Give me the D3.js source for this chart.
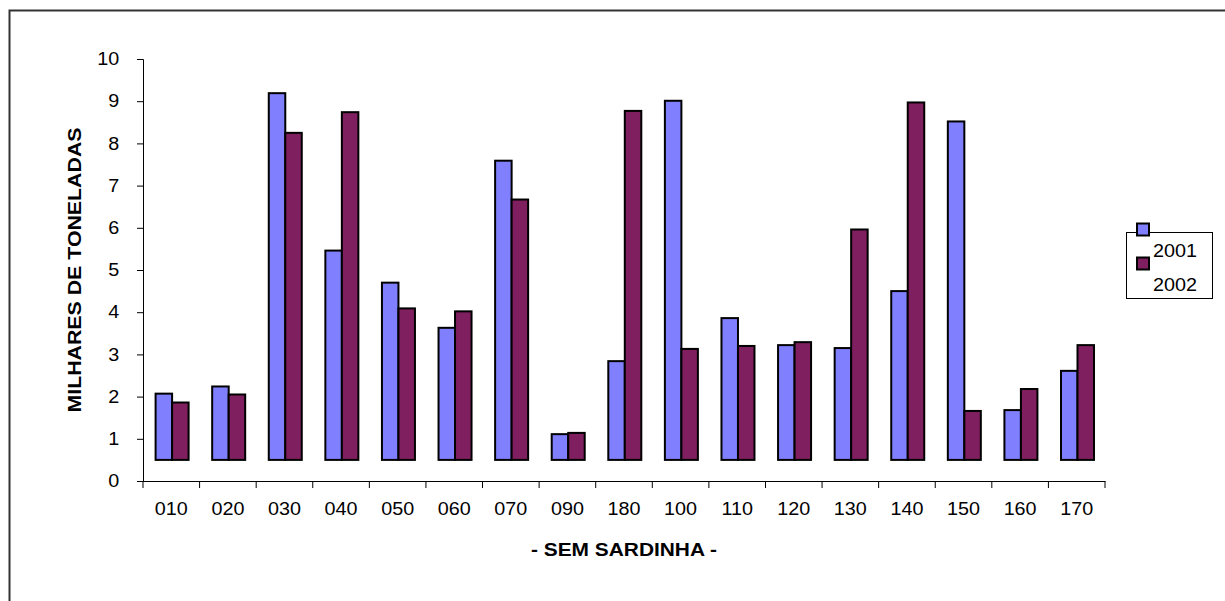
<!DOCTYPE html>
<html>
<head>
<meta charset="utf-8">
<script src="https://cdn.jsdelivr.net/npm/d3@7"></script>
<style>
body { margin: 0; background: #fff; }
text { font-family: "Liberation Sans", Arial, sans-serif; }
</style>
</head>
<body>
<div id="chart"></div>
<script>
const categories = ["010","020","030","040","050","060","070","090","180","100","110","120","130","140","150","160","170"];
const series = ["2001","2002"];
const values2001 = [2.07,2.24,9.19,5.46,4.70,3.63,7.59,1.11,2.84,9.01,3.86,3.22,3.15,4.50,8.52,1.68,2.61];
const values2002 = [1.86,2.05,8.25,8.74,4.09,4.02,6.67,1.14,8.77,3.13,3.20,3.29,5.96,8.97,1.66,2.18,3.22];
const yTicks = [0,1,2,3,4,5,6,7,8,9,10];
const barBase = 0.5;

const width = 1225,
height = 601,
margin = {top: 59, right: 120, bottom: 120, left: 143};

const colors = ["#8080ff", "#7f1f5f"];

const data = categories.map((c, i) => ({cat: c, v: [values2001[i], values2002[i]]}));

const svg = d3.select("#chart")
.append("svg")
.attr("width", width)
.attr("height", height);

// outer frame (runs off the right and bottom)
svg.append("rect")
.attr("x", 9.5)
.attr("y", 10.5)
.attr("width", width + 20)
.attr("height", height + 20)
.attr("fill", "none")
.attr("stroke", "#333")
.attr("stroke-width", 2);

let x = d3.scaleBand(categories, [margin.left, 1105]);
let y = d3.scaleLinear([0, 10], [481, 59]);

let xSub = d3.scaleBand(series, [0, 33]);

svg.append("g")
.attr("transform", `translate(${margin.left},0)`)
.call(d3.axisLeft(y).tickValues(yTicks).tickSize(6).tickPadding(15).tickFormat(d3.format("d")))
.call(g => g.select(".domain").attr("stroke", "#000"))
.call(g => g.selectAll("text")
  .attr("font-size", "17.5px").attr("fill", "#000")
  .attr("font-family", "Liberation Sans, Arial, sans-serif")
  .attr("transform", "scale(1.13,1)"));

let xAxis = svg.append("g")
.attr("transform", `translate(0,${y(0)})`)
.call(d3.axisBottom(x).tickSize(0).tickPadding(22))
.call(g => g.select(".domain").attr("stroke", "#000"))
.call(g => g.selectAll("text")
  .attr("font-size", "17.5px").attr("fill", "#000")
  .attr("font-family", "Liberation Sans, Arial, sans-serif")
  .attr("transform", "scale(1.13,1)"));

// category separator ticks
xAxis.append("g")
.selectAll("line")
.data(categories)
.join("line")
.attr("x1", d => x(d))
.attr("x2", d => x(d))
.attr("y1", 0)
.attr("y2", 7)
.attr("stroke", "#000");
xAxis.append("line")
.attr("x1", x.range()[1]).attr("x2", x.range()[1])
.attr("y1", 0).attr("y2", 7)
.attr("stroke", "#000");

const groupOffset = (x.bandwidth() - 33) / 2 + 0.8;

svg.append("g")
.selectAll("g")
.data(data)
.join("g")
.attr("transform", d => `translate(${x(d.cat) + groupOffset},0)`)
.selectAll("rect")
.data(d => d.v.map((v, i) => ({key: series[i], v: v, i: i})))
.join("rect")
.attr("x", d => xSub(d.key))
.attr("y", d => y(d.v))
.attr("width", xSub.bandwidth())
.attr("height", d => y(barBase) - y(d.v))
.attr("fill", d => colors[d.i])
.attr("stroke", "#000")
.attr("stroke-width", 2);

// legend
const legend = svg.append("g");
legend.append("rect")
.attr("x", 1126.5)
.attr("y", 232.5)
.attr("width", 86)
.attr("height", 66)
.attr("fill", "#fff")
.attr("stroke", "#000")
.attr("stroke-width", 1);

let legendGroup = legend.selectAll(".legend-group")
.data(series)
.join("g")
.attr("class", "legend-group");

legendGroup.append("rect")
.attr("x", 1137)
.attr("y", (d, i) => 223.5 + i * 34)
.attr("width", 12)
.attr("height", 12)
.attr("fill", (d, i) => colors[i])
.attr("stroke", "#000")
.attr("stroke-width", 2);

legendGroup.append("text")
.attr("x", 1153)
.attr("y", (d, i) => 256.5 + i * 34.5)
.attr("font-size", "18.5px")
.attr("fill", "#000")
.attr("textLength", 44)
.attr("lengthAdjust", "spacingAndGlyphs")
.text(d => d);

svg.append("text")
.attr("text-anchor", "middle")
.attr("x", 624)
.attr("y", 556)
.attr("font-size", "18.5px")
.attr("font-weight", "bold")
.attr("textLength", 186)
.attr("lengthAdjust", "spacingAndGlyphs")
.text("- SEM SARDINHA -");

svg.append("text")
.attr("text-anchor", "middle")
.attr("transform", "translate(81,270) rotate(-90)")
.attr("font-size", "18.5px")
.attr("font-weight", "bold")
.attr("textLength", 285)
.attr("lengthAdjust", "spacingAndGlyphs")
.text("MILHARES DE TONELADAS");
</script>
</body>
</html>
